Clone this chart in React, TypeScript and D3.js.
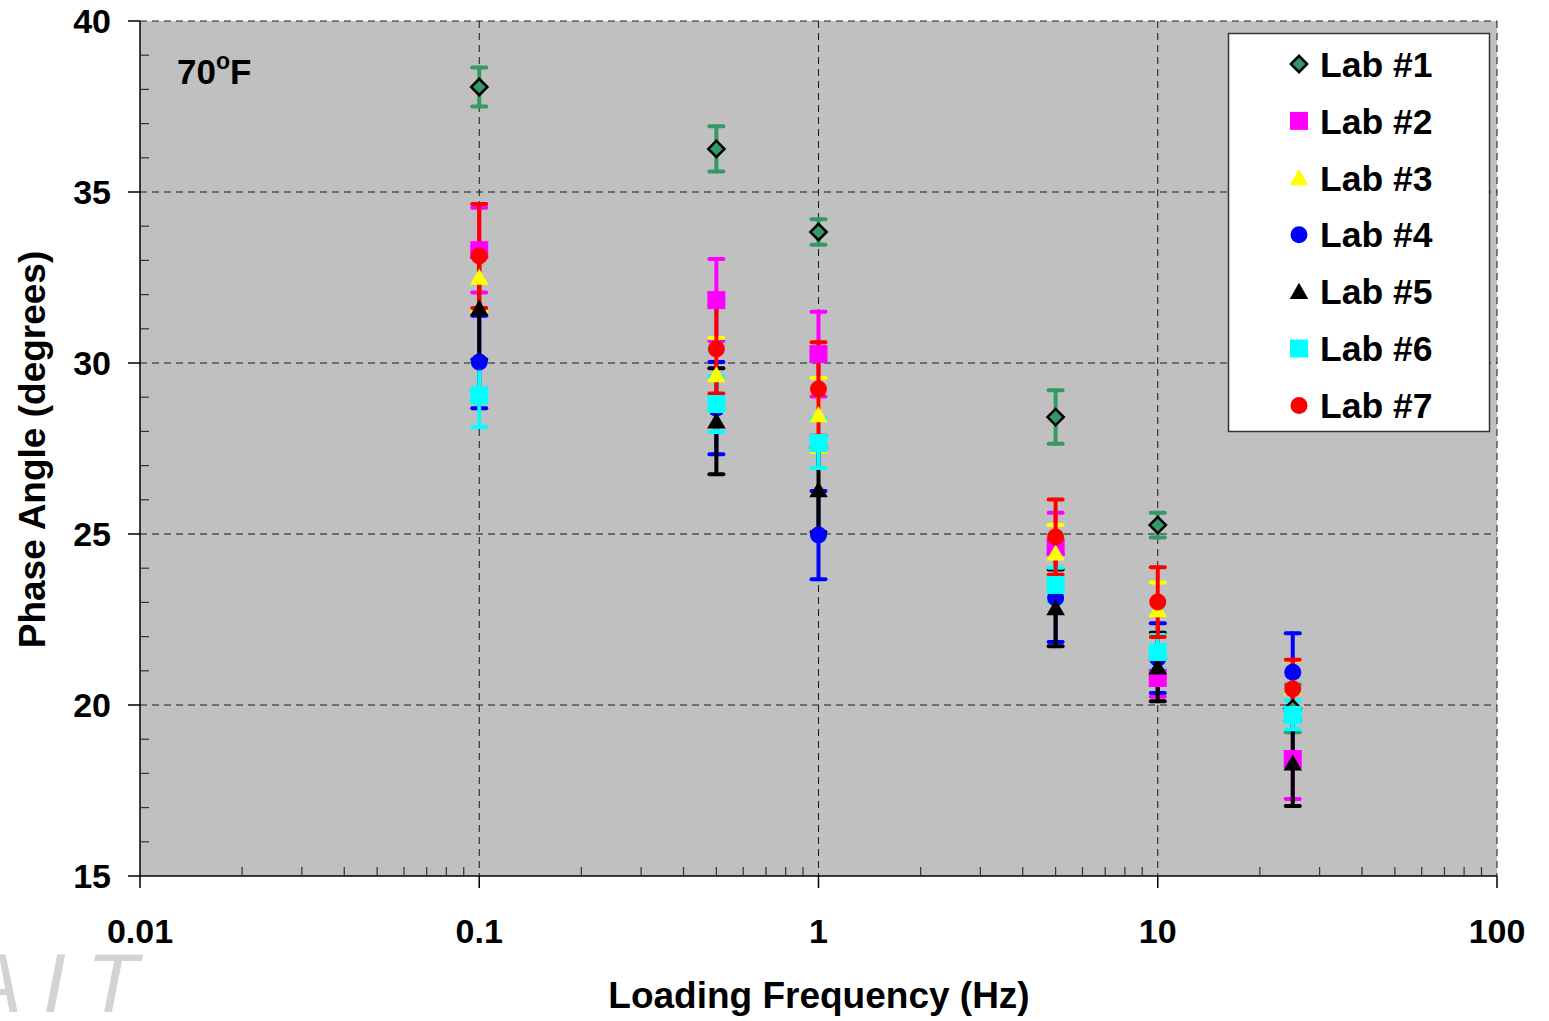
import React from "react";
import * as d3 from "d3";

// loading frequencies (Hz)
const freqs = [0.1, 0.5, 1, 5, 10, 25];

const labNames = ["Lab #1", "Lab #2", "Lab #3", "Lab #4", "Lab #5", "Lab #6", "Lab #7"];
const labColors = ["#339966", "#FF00FF", "#FFFF00", "#0000FF", "#000000", "#00FFFF", "#FF0000"];
const labShapes = ["diamond", "square", "triangle", "circle", "triangle", "square", "circle"];

// mean phase angle (degrees) per lab, one value per frequency
const lab1 = [38.07, 36.26, 33.83, 28.42, 25.26, 19.9];
const lab2 = [33.3, 31.84, 30.26, 24.62, 20.79, 18.42];
const lab3 = [32.5, 29.65, 28.48, 24.44, 22.78, 20.5];
const lab4 = [30.03, 28.68, 24.97, 23.13, 21.37, 20.96];
const lab5 = [31.6, 28.3, 26.29, 22.84, 21.11, 18.3];
const lab6 = [29.06, 28.8, 27.66, 23.51, 21.55, 19.71];
const lab7 = [33.13, 30.41, 29.24, 24.91, 23.01, 20.47];

// error bar half-lengths (degrees)
const err1 = [0.57, 0.66, 0.37, 0.78, 0.36, 0.7];
const err2 = [1.24, 1.2, 1.24, 1.0, 0.55, 1.17];
const err3 = [1.0, 1.08, 1.08, 0.82, 0.8, 0.8];
const err4 = [1.35, 1.35, 1.29, 1.29, 1.02, 1.14];
const err5 = [1.5, 1.55, 1.23, 1.12, 1.0, 1.25];
const err6 = [0.93, 0.82, 0.73, 0.5, 0.5, 0.42];
const err7 = [1.52, 1.3, 1.37, 1.1, 1.02, 0.85];

const means = [lab1, lab2, lab3, lab4, lab5, lab6, lab7];
const errs = [err1, err2, err3, err4, err5, err6, err7];

const xTicks = [0.01, 0.1, 1, 10, 100];
const xTickLabels = ["0.01", "0.1", "1", "10", "100"];
const yTicks = [15, 20, 25, 30, 35, 40];

const font = "'Liberation Sans', Arial, sans-serif";

function symbolPath(shape: string) {
  if (shape === "circle") return d3.symbol(d3.symbolCircle, 227)();
  if (shape === "triangle") return d3.symbol(d3.symbolTriangle, 150)();
  if (shape === "diamond") return d3.symbol(d3.symbolSquare, 132)();
  return d3.symbol(d3.symbolSquare, 324)();
}

function Marker({shape, color, x, y}: {shape: string; color: string; x: number; y: number}) {
  const rot = shape === "diamond" ? " rotate(45)" : "";
  // triangle: shift so that its box is centered on the point
  const dy = shape === "triangle" ? 2 : 0;
  return (
    <path
      d={symbolPath(shape) || ""}
      transform={`translate(${x},${y + dy})${rot}`}
      fill={color}
      stroke={shape === "diamond" ? "#000" : "none"}
      strokeWidth={2.5}
    />
  );
}

export default function App() {
  const width = 1549;
  const height = 1021;
  const left = 140, right = 1497, top = 21, bottom = 876;

  const x = d3.scaleLog().domain([0.01, 100]).range([left, right]);
  const y = d3.scaleLinear().domain([15, 40]).range([bottom, top]);

  const minorX: number[] = [];
  for (let dec = 0.01; dec < 100; dec *= 10) {
    for (let k = 2; k <= 9; k++) minorX.push(dec * k);
  }
  const minorY = d3.range(16, 40).filter(v => v % 5 !== 0);

  const capW = 7;

  return (
    <svg width={width} height={height} style={{position: "absolute", left: 0, top: 0}}>
      <rect x={0} y={0} width={width} height={height} fill="#fff" />
      {/* plot area */}
      <rect x={left} y={top} width={right - left} height={bottom - top} fill="#C0C0C0" />

      {/* grid */}
      {yTicks.filter(v => v > 15).map(v => (
        <line key={"gy" + v} x1={left} x2={right} y1={y(v)} y2={y(v)}
          stroke="#1a1a1a" strokeWidth={1} strokeDasharray="7,5" />
      ))}
      {xTicks.filter(v => v > 0.01).map(v => (
        <line key={"gx" + v} x1={x(v)} x2={x(v)} y1={top} y2={bottom}
          stroke="#1a1a1a" strokeWidth={1} strokeDasharray="7,5" />
      ))}

      {/* axes */}
      <line x1={left} x2={left} y1={top} y2={bottom} stroke="#000" strokeWidth={1.5} />
      <line x1={left} x2={right} y1={bottom} y2={bottom} stroke="#000" strokeWidth={1.5} />
      {yTicks.map(v => (
        <line key={"ty" + v} x1={left - 12} x2={left} y1={y(v)} y2={y(v)} stroke="#000" strokeWidth={1.5} />
      ))}
      {minorY.map(v => (
        <line key={"my" + v} x1={left} x2={left + 9} y1={y(v)} y2={y(v)} stroke="#333" strokeWidth={1.2} />
      ))}
      {xTicks.map(v => (
        <line key={"tx" + v} x1={x(v)} x2={x(v)} y1={bottom} y2={bottom + 12} stroke="#000" strokeWidth={1.5} />
      ))}
      {minorX.map(v => (
        <line key={"mx" + v} x1={x(v)} x2={x(v)} y1={bottom - 9} y2={bottom} stroke="#333" strokeWidth={1.2} />
      ))}

      {/* tick labels */}
      {yTicks.map(v => (
        <text key={"ly" + v} x={111} y={y(v)} dy="0.36em" textAnchor="end"
          fontFamily={font} fontWeight="bold" fontSize={34}>{v}</text>
      ))}
      {xTicks.map((v, i) => (
        <text key={"lx" + v} x={x(v)} y={943} textAnchor="middle"
          fontFamily={font} fontWeight="bold" fontSize={34}>{xTickLabels[i]}</text>
      ))}

      {/* axis titles */}
      <text x={819} y={1008} textAnchor="middle" fontFamily={font} fontWeight="bold" fontSize={37}>
        Loading Frequency (Hz)
      </text>
      <text transform={`translate(45,${(top + bottom) / 2 + 1}) rotate(-90)`} textAnchor="middle"
        fontFamily={font} fontWeight="bold" fontSize={37}>
        Phase Angle (degrees)
      </text>

      {/* temperature label */}
      <text x={177} y={84} fontFamily={font} fontWeight="bold" fontSize={35}>
        70<tspan fontSize={23} dy={-15}>o</tspan><tspan dy={15}>F</tspan>
      </text>

      {/* error bars */}
      {means.map((m, s) => (
        <g key={"eb" + s} stroke={labColors[s]} strokeWidth={4} strokeLinecap="round">
          {m.map((v, i) => {
            const cx = x(freqs[i]);
            const hi = y(v + errs[s][i]);
            const lo = y(v - errs[s][i]);
            return (
              <g key={i}>
                <line x1={cx} x2={cx} y1={hi} y2={lo} />
                <line x1={cx - capW} x2={cx + capW} y1={hi} y2={hi} />
                <line x1={cx - capW} x2={cx + capW} y1={lo} y2={lo} />
              </g>
            );
          })}
        </g>
      ))}

      {/* markers */}
      {means.map((m, s) => (
        <g key={"mk" + s}>
          {m.map((v, i) => (
            <Marker key={i} shape={labShapes[s]} color={labColors[s]} x={x(freqs[i])} y={y(v)} />
          ))}
        </g>
      ))}

      {/* legend */}
      <rect x={1228.5} y={33.5} width={261} height={398} fill="#fff" stroke="#333" strokeWidth={1.5} />
      {labNames.map((name, i) => {
        const ly = 64 + i * 56.9;
        return (
          <g key={"lg" + i}>
            <Marker shape={labShapes[i]} color={labColors[i]} x={1299} y={ly} />
            <text x={1320} y={ly} dy="0.36em" fontFamily={font} fontWeight="bold" fontSize={35.5}>{name}</text>
          </g>
        );
      })}

      {/* watermark */}
      <text x={-34} y={1012} textLength={172} lengthAdjust="spacing"
        fontFamily={font} fontStyle="italic" fontSize={84} fill="#d3d3d3">AIT</text>
    </svg>
  );
}
